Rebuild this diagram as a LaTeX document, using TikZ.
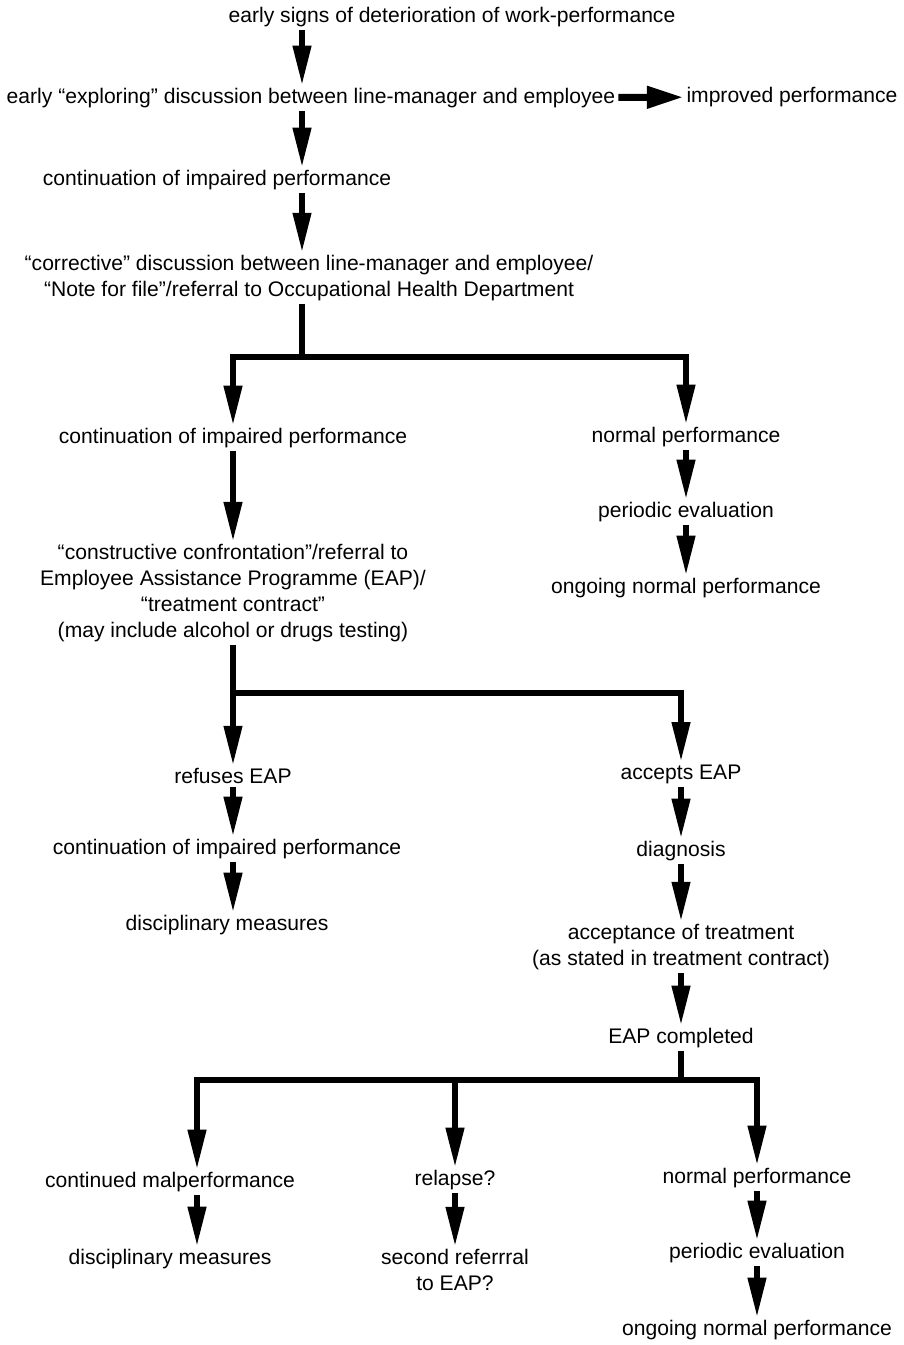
\documentclass[tikz,border=0pt]{standalone}
\usepackage{fontspec}
\setmainfont{Liberation Sans}
\usetikzlibrary{arrows.meta}

\begin{document}
\begin{tikzpicture}[x=0.025cm,y=-0.025cm,font=\fontsize{15}{18.4}\selectfont]
	
	% Styles for steps and arrows
	\tikzset{
		stepbox/.style={align=center,inner sep=2pt},
		arr/.style={line width=4pt,line join=miter,
			-{Triangle[length=28pt,width=12.5pt]}},
		flow/.style={line width=4.4pt,line join=miter}
	}
	
	\useasboundingbox (0,0) rectangle (903,1345);
	
	%========================================
	% Top: first discussions
	%========================================
	\coordinate (spine) at (302,0);
	
	\node[stepbox] (sign) at (452,17) {early signs of deterioration of work-performance};
	\node[stepbox] (explore) at (311,98) {early “exploring” discussion between line-manager and employee};
	\node[stepbox] (improved) at (792,97) {improved performance};
	\node[stepbox] (cont1) at (217,180) {continuation of impaired performance};
	\node[stepbox] (corrective) at (309,278) {“corrective” discussion between line-manager and employee/\\
		“Note for file”/referral to Occupational Health Department};
	
	\draw[arr] (sign.south -| spine) -- (explore.north -| spine);
	\draw[arr,line width=5pt,-{Triangle[length=26pt,width=15pt]}] (explore) -- (improved);
	\draw[arr] (explore.south -| spine) -- (cont1.north -| spine);
	\draw[arr] (cont1.south -| spine) -- (corrective.north -| spine);
	
	%========================================
	% First split
	%========================================
	\coordinate (split1) at (302,357);
	
	\node[stepbox] (cont2) at (233,438) {continuation of impaired performance};
	\node[stepbox] (normal1) at (686,437) {normal performance};
	\node[stepbox] (eval1) at (686,512) {periodic evaluation};
	\node[stepbox] (ongoing1) at (686,588) {ongoing normal performance};
	\node[stepbox] (confront) at (233,593) {“constructive confrontation”/referral to\\
		Employee Assistance Programme (EAP)/\\
		“treatment contract”\\
		(may include alcohol or drugs testing)};
	
	\draw[flow] (corrective.south -| spine) -- (split1);
	\draw[arr] (split1) -| (cont2.north);
	\draw[arr] (split1) -| (normal1.north);
	\draw[arr] (normal1) -- (eval1);
	\draw[arr] (eval1) -- (ongoing1);
	\draw[arr] (cont2) -- (confront);
	
	%========================================
	% Second split: refuses / accepts EAP
	%========================================
	\coordinate (split2) at (233,693);
	
	\node[stepbox] (refuse) at (233,776) {refuses EAP};
	\node[stepbox] (cont3) at (227,849) {continuation of impaired performance};
	\node[stepbox] (discip1) at (227,925) {disciplinary measures};
	\node[stepbox] (accept) at (681,774) {accepts EAP};
	\node[stepbox] (diag) at (681,851) {diagnosis};
	\node[stepbox] (treat) at (681,947) {acceptance of treatment\\
		(as stated in treatment contract)};
	\node[stepbox] (done) at (681,1038) {EAP completed};
	
	\draw[arr] (confront.south -| refuse) -- (refuse);
	\draw[arr] (split2) -| (accept.north);
	\draw[arr] (refuse.south -| confront) -- (cont3.north -| confront);
	\draw[arr] (cont3.south -| confront) -- (discip1.north -| confront);
	\draw[arr] (accept) -- (diag);
	\draw[arr] (diag) -- (treat);
	\draw[arr] (treat) -- (done);
	
	%========================================
	% Third split: after EAP
	%========================================
	\coordinate (split3) at (681,1080);
	\coordinate (left3) at (197,0);
	
	\node[stepbox] (malperf) at (170,1182) {continued malperformance};
	\node[stepbox] (discip2) at (170,1259) {disciplinary measures};
	\node[stepbox] (relapse) at (455,1180) {relapse?};
	\node[stepbox] (second) at (455,1270) {second referrral\\to EAP?};
	\node[stepbox] (normal2) at (757,1178) {normal performance};
	\node[stepbox] (eval2) at (757,1253) {periodic evaluation};
	\node[stepbox] (ongoing2) at (757,1330) {ongoing normal performance};
	
	\draw[flow] (done) -- (split3);
	\draw[arr] (split3) -| (malperf.north -| left3);
	\draw[arr] (split3) -| (relapse.north);
	\draw[arr] (split3) -| (normal2.north);
	\draw[arr] (malperf.south -| left3) -- (discip2.north -| left3);
	\draw[arr] (relapse) -- (second);
	\draw[arr] (normal2) -- (eval2);
	\draw[arr] (eval2) -- (ongoing2);
	
\end{tikzpicture}
\end{document}
